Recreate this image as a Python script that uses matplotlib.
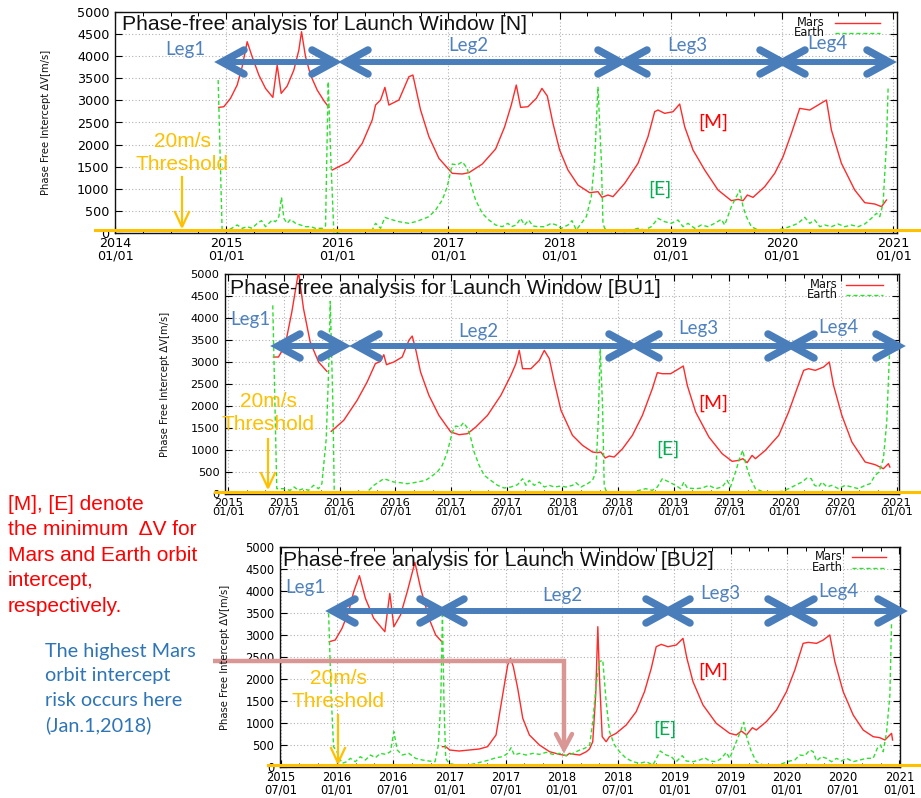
import numpy as np
import matplotlib
matplotlib.use('Agg')
import matplotlib.pyplot as plt
from matplotlib.lines import Line2D
from matplotlib import transforms
from matplotlib.ticker import FixedLocator, MultipleLocator

nan = np.nan
W, H = 921, 798

# ---------------- data (decimal years, delta-V in m/s) ----------------
N_MARS_T = [2014.934, 2014.979, 2015.039, 2015.099, 2015.144, 2015.189, 2015.234, 2015.294, 2015.354, 2015.42,
            2015.459, 2015.495, 2015.549, 2015.609, 2015.654, 2015.678, 2015.714, 2015.759, 2015.819, 2015.879,
            2015.924, 2015.94,
            2015.954, 2016.104, 2016.224, 2016.314, 2016.344, 2016.389, 2016.428, 2016.464, 2016.554, 2016.644,
            2016.68, 2016.749, 2016.824, 2016.914, 2017.034, 2017.124, 2017.184, 2017.304, 2017.424, 2017.505,
            2017.565, 2017.61, 2017.649, 2017.715, 2017.79, 2017.841, 2017.889, 2017.94, 2018.0, 2018.075,
            2018.165, 2018.27, 2018.345, 2018.381, 2018.435, 2018.48, 2018.585, 2018.705, 2018.795, 2018.855,
            2018.885, 2018.945, 2019.02, 2019.08, 2019.125, 2019.2, 2019.305, 2019.425, 2019.545, 2019.605,
            2019.65, 2019.689, 2019.74, 2019.845, 2019.935, 2020.01, 2020.085, 2020.16, 2020.25, 2020.325,
            2020.4, 2020.445, 2020.535, 2020.655, 2020.745, 2020.835, 2020.895, 2020.94]
N_MARS_DV = [2842, 2857, 3046, 3348, 3762, 4328, 3988, 3574, 3272, 3068,
             3800, 3159, 3325, 3687, 4139, 4554, 3988, 3574, 3234, 2993,
             2842, nan,
             1425, 1613, 2028, 2556, 2895, 3008, 3295, 2895, 3008, 3536,
             3574, 2782, 2179, 1689, 1350, 1335, 1365, 1560, 1900, 2400,
             2895, 3348, 2842, 2857, 3046, 3272, 3099, 2480, 1877, 1425,
             1085, 912, 935, 807, 859, 822, 1123, 1576, 2179, 2744,
             2782, 2707, 2744, 2918, 2405, 1877, 1425, 972, 731, 761,
             731, 859, 807, 1048, 1350, 1726, 2254, 2820, 2782, 2895,
             3008, 2330, 1576, 972, 686, 656, 596, 746]

N_EARTH_T = [2014.928, 2014.964, 2015.024, 2015.099, 2015.144, 2015.189, 2015.234, 2015.279, 2015.318, 2015.354,
             2015.414, 2015.444, 2015.474, 2015.498, 2015.519, 2015.549, 2015.579, 2015.624, 2015.669, 2015.714,
             2015.759, 2015.804, 2015.864, 2015.894, 2015.918, 2015.942, 2015.969, 2016.014, 2016.104, 2016.224,
             2016.314, 2016.344, 2016.389, 2016.428, 2016.479, 2016.554, 2016.644, 2016.704, 2016.764, 2016.824,
             2016.884, 2016.944, 2016.989, 2017.034, 2017.079, 2017.124, 2017.169, 2017.199, 2017.244, 2017.304,
             2017.364, 2017.424, 2017.484, 2017.535, 2017.565, 2017.61, 2017.649, 2017.685, 2017.721, 2017.76,
             2017.805, 2017.865, 2017.925, 2017.97, 2018.015, 2018.075, 2018.111, 2018.15, 2018.195, 2018.24,
             2018.285, 2018.315, 2018.345, 2018.375, 2018.39, 2018.405, 2018.465, 2018.525, 2018.585, 2018.645,
             2018.705, 2018.765, 2018.825, 2018.885, 2018.945, 2019.005, 2019.065, 2019.11, 2019.155, 2019.215,
             2019.275, 2019.335, 2019.395, 2019.455, 2019.485, 2019.545, 2019.59, 2019.62, 2019.65, 2019.68,
             2019.725, 2019.785, 2019.845, 2019.905, 2019.965, 2020.025, 2020.085, 2020.145, 2020.205, 2020.25,
             2020.295, 2020.34, 2020.385, 2020.445, 2020.505, 2020.565, 2020.625, 2020.685, 2020.745, 2020.805,
             2020.85, 2020.88, 2020.91, 2020.94, 2020.955]
N_EARTH_DV = [3461, 30, 68, 181, 106, 143, 106, 219, 279, 143,
              294, 256, 369, 807, 332, 219, 309, 219, 181, 143,
              143, 106, 106, 158, 3423, 1651, 8, 30, 68, 30,
              68, 219, 106, 354, 309, 256, 219, 256, 309, 369,
              520, 746, 1048, 1561, 1538, 1613, 1463, 1123, 746, 445,
              294, 181, 143, 219, 143, 181, 332, 181, 294, 158,
              143, 143, 219, 181, 106, 181, 279, 68, 219, 369,
              822, 1651, 3310, 1651, 219, 106, 30, 68, 30, 68,
              106, 68, 143, 332, 256, 219, 294, 143, 219, 106,
              181, 143, 219, 309, 181, 596, 822, 972, 596, 369,
              143, 68, 68, 30, 68, 106, 158, 219, 354, 219,
              294, 143, 181, 143, 204, 143, 181, 143, 204, 332,
              445, 369, 671, 2028, 3272]

BU1_MARS_T = [2015.405, 2015.45, 2015.51, 2015.57, 2015.63, 2015.675, 2015.735, 2015.81, 2015.885, 2015.905,
              2015.924, 2016.036, 2016.156, 2016.246, 2016.32, 2016.366, 2016.396, 2016.42, 2016.486, 2016.561,
              2016.621, 2016.651, 2016.681, 2016.726, 2016.801, 2016.891, 2016.997, 2017.072, 2017.147, 2017.222,
              2017.327, 2017.447, 2017.537, 2017.582, 2017.612, 2017.642, 2017.717, 2017.792, 2017.837, 2017.882,
              2017.927, 2017.987, 2018.09, 2018.18, 2018.27, 2018.315, 2018.345, 2018.384, 2018.42, 2018.464,
              2018.54, 2018.628, 2018.718, 2018.807, 2018.852, 2018.897, 2018.972, 2019.046, 2019.085, 2019.121,
              2019.196, 2019.315, 2019.434, 2019.524, 2019.584, 2019.62, 2019.658, 2019.703, 2019.733, 2019.822,
              2019.942, 2020.031, 2020.106, 2020.166, 2020.21, 2020.27, 2020.345, 2020.396, 2020.434, 2020.509,
              2020.599, 2020.718, 2020.808, 2020.882, 2020.927, 2020.94]
BU1_MARS_DV = [3113, 3113, 3378, 4136, 5050, 4212, 3454, 3000, 2787, nan,
               1424, 1674, 2128, 2545, 2962, 3015, 3166, 2939, 3000, 3113,
               3492, 3590, 3302, 2772, 2242, 1787, 1409, 1348, 1371, 1522,
               1787, 2242, 2696, 2962, 3265, 2848, 2848, 3037, 3265, 3075,
               2545, 1900, 1333, 1106, 954, 939, 954, 818, 863, 840,
               1030, 1333, 1787, 2393, 2757, 2734, 2734, 2848, 2909, 2469,
               1863, 1295, 916, 742, 765, 803, 712, 878, 803, 992,
               1333, 1863, 2393, 2810, 2848, 2810, 2886, 3000, 2469, 1787,
               1181, 727, 666, 575, 689, 613]

BU1_EARTH_T = [2015.399, 2015.435, 2015.495, 2015.555, 2015.591, 2015.63, 2015.675, 2015.72, 2015.765, 2015.81,
               2015.84, 2015.879, 2015.9, 2015.915, 2015.939, 2015.951, 2016.005, 2016.066, 2016.126, 2016.186,
               2016.246, 2016.306, 2016.351, 2016.396, 2016.441, 2016.486, 2016.546, 2016.606, 2016.666, 2016.726,
               2016.771, 2016.816, 2016.876, 2016.921, 2016.966, 2017.012, 2017.042, 2017.081, 2017.111, 2017.141,
               2017.171, 2017.207, 2017.252, 2017.297, 2017.357, 2017.417, 2017.477, 2017.537, 2017.597, 2017.642,
               2017.672, 2017.702, 2017.747, 2017.792, 2017.837, 2017.882, 2017.927, 2017.987, 2018.031, 2018.091,
               2018.121, 2018.166, 2018.225, 2018.27, 2018.3, 2018.321, 2018.339, 2018.36, 2018.375, 2018.39,
               2018.449, 2018.509, 2018.569, 2018.628, 2018.688, 2018.748, 2018.807, 2018.852, 2018.897, 2018.957,
               2019.016, 2019.061, 2019.091, 2019.121, 2019.196, 2019.255, 2019.315, 2019.375, 2019.434, 2019.479,
               2019.509, 2019.554, 2019.59, 2019.619, 2019.649, 2019.688, 2019.733, 2019.793, 2019.852, 2019.912,
               2019.972, 2020.031, 2020.091, 2020.151, 2020.196, 2020.234, 2020.264, 2020.3, 2020.33, 2020.375,
               2020.419, 2020.479, 2020.539, 2020.599, 2020.658, 2020.718, 2020.763, 2020.807, 2020.843, 2020.882,
               2020.912, 2020.936]
BU1_EARTH_DV = [4287, 121, 121, 83, 159, 83, 121, 83, 197, 121,
                234, 1257, 2772, 4378, 2015, 45, 45, 30, 45, 60,
                45, 197, 272, 348, 310, 272, 257, 234, 257, 287,
                310, 386, 500, 651, 954, 1409, 1545, 1522, 1621, 1522,
                1333, 954, 651, 424, 310, 197, 136, 159, 212, 348,
                197, 310, 197, 272, 159, 197, 159, 181, 159, 197,
                257, 159, 234, 310, 500, 1636, 3303, 2015, 197, 83,
                30, 45, 30, 45, 83, 121, 83, 159, 348, 272,
                197, 121, 272, 136, 121, 136, 197, 121, 159, 310,
                159, 500, 803, 992, 651, 348, 121, 60, 30, 45,
                60, 121, 197, 272, 363, 348, 197, 159, 272, 159,
                197, 121, 197, 159, 121, 197, 234, 424, 500, 803,
                1636, 3151]

BU2_MARS_T = [2015.932, 2015.985, 2016.045, 2016.104, 2016.149, 2016.2, 2016.253, 2016.327, 2016.426, 2016.47,
              2016.506, 2016.565, 2016.625, 2016.693, 2016.744, 2016.818, 2016.878, 2016.932, 2016.935,
              2016.938, 2016.967, 2017.003, 2017.086, 2017.176, 2017.265, 2017.339, 2017.414, 2017.473, 2017.518,
              2017.542, 2017.568, 2017.607, 2017.652, 2017.711, 2017.8, 2017.89, 2017.979, 2018.039, 2018.068,
              2018.113, 2018.158, 2018.217, 2018.245, 2018.274, 2018.3, 2018.319, 2018.334, 2018.358, 2018.393,
              2018.423, 2018.482, 2018.571, 2018.66, 2018.734, 2018.794, 2018.838, 2018.883, 2018.942, 2019.016,
              2019.076, 2019.111, 2019.165, 2019.254, 2019.372, 2019.491, 2019.55, 2019.595, 2019.64, 2019.693,
              2019.728, 2019.817, 2019.907, 2019.996, 2020.07, 2020.144, 2020.189, 2020.263, 2020.323, 2020.381,
              2020.426, 2020.5, 2020.589, 2020.678, 2020.767, 2020.826, 2020.871, 2020.9, 2020.93, 2020.939]
BU2_MARS_DV = [2848, 2886, 3151, 3530, 3984, 4348, 3833, 3378, 3075, 3946,
               3189, 3454, 3984, 4651, 4060, 3378, 3000, 2848, nan,
               462, 462, 386, 363, 386, 409, 462, 727, 1636, 2318,
               2469, 2280, 1787, 1106, 727, 500, 348, 287, 257, 310,
               287, 272, 348, 409, 575, 1636, 3189, 2015, 689, 575,
               689, 765, 954, 1257, 1712, 2242, 2734, 2787, 2734, 2772,
               2924, 2469, 1939, 1409, 992, 765, 727, 818, 727, 893,
               840, 1030, 1295, 1712, 2204, 2810, 2833, 2810, 2886, 3000,
               2393, 1712, 1181, 840, 689, 666, 613, 689, 765, 613]

BU2_EARTH_T = [2015.926, 2015.949, 2015.97, 2016.0, 2016.045, 2016.089, 2016.119, 2016.164, 2016.208, 2016.253,
               2016.298, 2016.342, 2016.387, 2016.432, 2016.476, 2016.506, 2016.536, 2016.58, 2016.64, 2016.699,
               2016.759, 2016.818, 2016.872, 2016.902, 2016.923, 2016.938, 2016.952, 2016.967, 2016.997, 2017.057,
               2017.116, 2017.176, 2017.235, 2017.295, 2017.354, 2017.414, 2017.473, 2017.518, 2017.548, 2017.577,
               2017.622, 2017.682, 2017.741, 2017.801, 2017.86, 2017.92, 2017.979, 2018.039, 2018.098, 2018.158,
               2018.202, 2018.247, 2018.274, 2018.304, 2018.334, 2018.363, 2018.393, 2018.423, 2018.467, 2018.512,
               2018.571, 2018.631, 2018.69, 2018.749, 2018.809, 2018.874, 2018.927, 2018.972, 2019.016, 2019.07,
               2019.105, 2019.165, 2019.224, 2019.269, 2019.313, 2019.372, 2019.417, 2019.461, 2019.491, 2019.55,
               2019.586, 2019.616, 2019.645, 2019.684, 2019.728, 2019.788, 2019.847, 2019.907, 2019.966, 2020.025,
               2020.07, 2020.114, 2020.159, 2020.203, 2020.233, 2020.263, 2020.307, 2020.352, 2020.396, 2020.441,
               2020.485, 2020.53, 2020.589, 2020.648, 2020.708, 2020.767, 2020.803, 2020.832, 2020.856, 2020.886,
               2020.915, 2020.93]
BU2_EARTH_DV = [3492, 1636, 462, 348, 83, 121, 197, 121, 234, 159,
                272, 212, 310, 287, 348, 803, 386, 272, 310, 197,
                159, 136, 121, 500, 1484, 3454, 1409, 197, 83, 45,
                30, 45, 83, 121, 159, 212, 234, 310, 439, 272,
                310, 272, 310, 287, 333, 287, 310, 257, 310, 386,
                424, 500, 1030, 1863, 2393, 2431, 1484, 803, 500, 348,
                197, 121, 83, 121, 45, 363, 272, 234, 121, 257,
                136, 121, 159, 212, 136, 121, 197, 333, 197, 575,
                803, 1015, 651, 348, 121, 45, 30, 45, 83, 136,
                159, 272, 257, 386, 348, 136, 234, 197, 121, 197,
                136, 197, 121, 159, 197, 197, 424, 500, 348, 803,
                1636, 3303]

Y_TICKS = [0, 500, 1000, 1500, 2000, 2500, 3000, 3500, 4000, 4500, 5000]
TITLES = ["Phase-free analysis for Launch Window [N]",
          "Phase-free analysis for Launch Window [BU1]",
          "Phase-free analysis for Launch Window [BU2]"]
SERIES_NAMES = ["Mars", "Earth"]
LEG_NAMES = ["Leg1", "Leg2", "Leg3", "Leg4"]
YLABEL = "Phase Free Intercept \u0394V[m/s]"
THRESHOLD_TEXT = "20m/s\nThreshold"
NOTE_RED = "[M], [E] denote\nthe minimum  \u0394V for\nMars and Earth orbit\nintercept,\nrespectively."
NOTE_BLUE = "The highest Mars\norbit intercept\nrisk occurs here\n(Jan.1,2018)"

# ---------------- figure ----------------
fig = plt.figure(figsize=(W / 100, H / 100), dpi=100)
fig.patch.set_facecolor('white')


def fx(px):
    return px / W


def fy(py):
    return 1 - py / H


def fline(xs, ys, **kw):
    fig.add_artist(Line2D([fx(x) for x in xs], [fy(y) for y in ys], transform=fig.transFigure, **kw))


def ftext(px, py, s, **kw):
    fig.text(fx(px), fy(py), s, **kw)


MARS_C = '#ff2a2a'
EARTH_C = '#2ee02e'
BLUE = '#4A7EBB'
ORANGE = '#FFC000'


def tick_label(t):
    y = int(np.floor(t + 1e-6))
    m = 1 if abs(t - y) < 0.01 else 7
    return f"{y}\n{m:02d}/01"


panels = [
    dict(rect=(115, 12, 897, 233), xlim=(2014.0, 2021.035), majors=list(np.arange(2014, 2022, 1.0)),
         minor=0.25, tfs=9.2, mt=N_MARS_T, mv=N_MARS_DV, et=N_EARTH_T, ev=N_EARTH_DV,
         ylabel_x=46, thr_line=(95, 75)),
    dict(rect=(225, 274, 899, 494), xlim=(2014.97, 2021.022), majors=list(np.arange(2015, 2021.01, 0.5)),
         minor=1 / 6, tfs=8.2, mt=BU1_MARS_T, mv=BU1_MARS_DV, et=BU1_EARTH_T, ev=BU1_EARTH_DV,
         ylabel_x=165, thr_line=(215, 45)),
    dict(rect=(280, 547, 900, 767), xlim=(2015.494, 2021.005), majors=list(np.arange(2015.5, 2021.01, 0.5)),
         minor=1 / 6, tfs=8.3, mt=BU2_MARS_T, mv=BU2_MARS_DV, et=BU2_EARTH_T, ev=BU2_EARTH_DV,
         ylabel_x=225, thr_line=(268, 45)),
]

axes = []
for p in panels:
    l, t, r, b = p['rect']
    ax = fig.add_axes([fx(l), fy(b), (r - l) / W, (b - t) / H])
    ax.set_xlim(*p['xlim'])
    ax.set_ylim(0, 5000)
    ax.plot(p['mt'], p['mv'], color=MARS_C, lw=1.0, label=SERIES_NAMES[0], zorder=3)
    ax.plot(p['et'], p['ev'], color=EARTH_C, lw=1.0, ls=(0, (3, 2)), label=SERIES_NAMES[1], zorder=3)
    ax.xaxis.set_major_locator(FixedLocator(p['majors']))
    ax.set_xticklabels([tick_label(v) for v in p['majors']], fontsize=p['tfs'], family='DejaVu Sans',
                       linespacing=0.9)
    ax.xaxis.set_minor_locator(MultipleLocator(p['minor']))
    ax.set_yticks(Y_TICKS)
    ax.set_yticklabels([str(v) for v in Y_TICKS], fontsize=p['tfs'], family='DejaVu Sans')
    ax.tick_params(which='major', direction='in', top=True, right=True, length=5, width=0.8, pad=4,
                   colors='#000000')
    ax.tick_params(which='minor', direction='in', top=True, right=True, length=3, width=0.7)
    ax.tick_params(axis='y', which='minor', left=False, right=False)
    ax.tick_params(axis='x', which='major', pad=3)
    ax.grid(True, which='major', color='#b0b0b0', ls=(0, (1, 2)), lw=0.8)
    for s in ax.spines.values():
        s.set_linewidth(1.0)
        s.set_color('#111111')
    ax.set_facecolor('white')
    # y label
    ftext(p['ylabel_x'], (t + b) / 2, YLABEL, rotation=90, ha='center', va='center', fontsize=7.2,
          family=['Liberation Sans Narrow', 'DejaVu Sans'], color='#111111')
    # threshold line (extends beyond the axes)
    x0, yv = p['thr_line']
    tr = transforms.blended_transform_factory(fig.transFigure, ax.transData)
    fig.add_artist(Line2D([fx(x0), 1.0], [yv, yv], transform=tr, color=ORANGE, lw=2.2, zorder=5))
    axes.append(ax)

# titles
title_pos = [(122, 25), (230, 288), (283, 560)]
for (px, py), ttl in zip(title_pos, TITLES):
    ftext(px, py, ttl, ha='left', va='center', fontsize=15.2, family='Liberation Sans', color='#111111')

# legends (gnuplot style: text then sample line)
leg_pos = [(825, 22.5, 835, 880, 10.5), (838, 284.5, 846, 883, 10.5), (843, 557, 852, 886, 10.5)]
for (tx, ty, l1, l2, dy) in leg_pos:
    ftext(tx, ty, SERIES_NAMES[0], ha='right', va='center', fontsize=8.3, family='DejaVu Sans', color='#111111')
    ftext(tx, ty + dy, SERIES_NAMES[1], ha='right', va='center', fontsize=8.3, family='DejaVu Sans',
          color='#111111')
    fline([l1, l2], [ty, ty], color=MARS_C, lw=1.0)
    fline([l1, l2], [ty + dy, ty + dy], color=EARTH_C, lw=1.0, ls=(0, (3, 2)))


# leg arrows
def chevron(tx, ty, d, color=BLUE, dx=22, dy=12, lw=5.4):
    fline([tx - d * dx, tx, tx - d * dx], [ty - dy, ty, ty + dy], color=color, lw=lw,
          solid_joinstyle='miter', solid_capstyle='round')


def leg_arrow(x1, x2, y):
    fline([x1 + 3, x2 - 3], [y, y], color=BLUE, lw=4.3, solid_capstyle='butt')
    chevron(x1, y, -1)
    chevron(x2, y, 1)


arrow_sets = [
    (62, [(222, 334), (346, 620), (625, 782), (783, 889)]),
    (346, [(278, 343), (357, 631), (637, 790), (792, 898)]),
    (611, [(333, 442), (442, 668), (668, 790), (792, 900)]),
]
for y, segs in arrow_sets:
    for x1, x2 in segs:
        leg_arrow(x1, x2, y)

leg_label_pos = [
    [(185, 49), (468, 46), (687, 45), (827, 43)],
    [(250, 320), (478, 331), (698, 329), (838, 327)],
    [(305, 588), (562, 595), (720, 593), (838, 591)],
]
for row in leg_label_pos:
    for (px, py), name in zip(row, LEG_NAMES):
        ftext(px, py, name, ha='center', va='center', fontsize=13.5, family='Lato', color='#4F81BD')

# [M] / [E] labels
for (px, py) in [(713, 122), (713, 403), (713, 671)]:
    ftext(px, py, "[M]", ha='center', va='center', fontsize=14, family='Lato', color='#FF0000')
for (px, py) in [(660, 189), (668, 449), (665, 729)]:
    ftext(px, py, "[E]", ha='center', va='center', fontsize=14, family='Lato', color='#00B050')

# threshold annotations
thr = [(182, 153, 177, 227), (268, 413, 439, 488), (338, 690, 715, 763)]
for (px, pyc, ya, yb) in thr:
    ftext(px, pyc, THRESHOLD_TEXT, ha='center', va='center', fontsize=15, family='Liberation Sans',
          color=ORANGE, linespacing=1.3)
    fline([px, px], [ya, yb - 1], color=ORANGE, lw=1.6)
    fline([px - 7, px, px + 7], [yb - 15, yb, yb - 15], color=ORANGE, lw=1.6, solid_joinstyle='miter')

# left notes
ftext(8, 495, NOTE_RED, ha='left', va='top', fontsize=15, family='Liberation Sans', color='#FF0000',
      linespacing=1.43)
ftext(45, 643, NOTE_BLUE, ha='left', va='top', fontsize=14.3, family='Lato', color='#2E75B6',
      linespacing=1.52)

# pink pointer to Jan 1, 2018
PINK = '#D99694'
fline([213, 564, 564], [661, 661, 747], color=PINK, lw=3.2, solid_joinstyle='miter', solid_capstyle='butt')
fline([556, 564, 572], [734, 749, 734], color=PINK, lw=3.2, solid_joinstyle='miter', solid_capstyle='round')

fig.savefig('out.png', dpi=100, facecolor='white')
